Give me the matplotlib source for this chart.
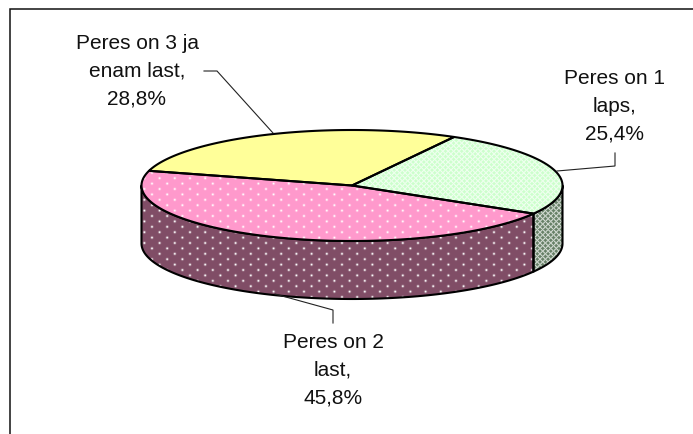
import numpy as np
import matplotlib
matplotlib.use("Agg")
import matplotlib.pyplot as plt
from matplotlib.patches import Polygon

plt.rcParams['font.family'] = ['Liberation Sans', 'DejaVu Sans']

categories = ["Peres on 1\nlaps,", "Peres on 2\nlast,", "Peres on 3 ja\nenam last,"]
values = [25.4, 45.8, 28.8]
value_labels = ["25,4%", "45,8%", "28,8%"]
top_colors = ["#ccffcc", "#ff99cc", "#ffff99"]
side_colors = ["#668066", "#804d66", "#808050"]
patterns = ["lattice", "dots", None]
label_pos = [(614.5, 106), (333, 370), (137, 71)]
leaders = [[(557, 171), (615, 166), (615, 153)],
           [(275, 294), (333, 310), (333, 323)],
           [(204, 71), (217, 71), (273, 133)]]

W, H = 693, 434
CX, CY, RX, RY, DEPTH = 352, 185.5, 210.5, 55.5, 58
START = 61.0

fig = plt.figure(figsize=(W / 100, H / 100), dpi=100)
ax = fig.add_axes([0, 0, 1, 1])
ax.set_xlim(0, W)
ax.set_ylim(H, 0)
ax.axis('off')
ax.plot([9.5, 9.5, W], [H, 8.5, 8.5], color='#111111', lw=1.1, zorder=1,
        solid_joinstyle='miter')

YY, XX = np.mgrid[0:H, 0:W] + 0.5


def texture(kind):
    """Return white-alpha overlay for a fill pattern."""
    if kind == "dots":
        px, py = 15.2, 10.8
        a = np.zeros_like(XX)
        for ox, oy in [(0, 0), (px / 2, py / 2)]:
            dx = (XX - ox + px / 2) % px - px / 2
            dy = (YY - oy + py / 2) % py - py / 2
            a = np.maximum(a, np.exp(-(dx**2 + dy**2) / (2 * 0.8**2)))
        return a
    p = 5.4
    d1 = np.abs(((XX + YY) + p / 2) % p - p / 2)
    d2 = np.abs(((XX - YY) + p / 2) % p - p / 2)
    a = np.maximum(np.exp(-d1**2 / 0.9), np.exp(-d2**2 / 0.9))
    return a * 0.7


def pts(a0, a1, dy=0):
    t = np.radians(np.linspace(a0, a1, 200))
    return np.column_stack([CX + RX * np.cos(t), CY - RY * np.sin(t) + dy])


def patterned(poly, color, kind, z, lw=1.5):
    ax.add_patch(Polygon(poly, closed=True, fc=color, ec='none', zorder=z))
    if kind:
        rgba = np.ones((H, W, 4))
        rgba[..., 3] = texture(kind)
        im = ax.imshow(rgba, extent=(0, W, H, 0), zorder=z + 0.1, aspect='auto',
                       interpolation='nearest')
        clip = Polygon(poly, closed=True, transform=ax.transData)
        im.set_clip_path(clip)
    ax.add_patch(Polygon(poly, closed=True, fc='none', ec='black', lw=lw,
                         joinstyle='round', zorder=z + 0.2))


angles = START - np.cumsum([0] + values) * 3.6

# walls: the visible front half runs between 180 and 360 degrees
for i in range(3):
    a0, a1 = angles[i], angles[i + 1]      # a1 < a0, clockwise
    lo, hi = max(a1, -180), min(a0, 0)
    if lo < hi:
        top = pts(hi, lo)
        bot = pts(lo, hi, DEPTH)
        patterned(np.vstack([top, bot]), side_colors[i], patterns[i], 2)

# tops
for i in range(3):
    arc = pts(angles[i], angles[i + 1])
    patterned(np.vstack([[CX, CY], arc]), top_colors[i], patterns[i], 3)

for i in range(3):
    xs, ys = zip(*leaders[i])
    ax.plot(xs, ys, color='#222222', lw=0.8, zorder=4, solid_joinstyle='miter')
    ax.text(*label_pos[i], categories[i] + "\n" + value_labels[i], ha='center',
            va='center', ma='center', fontsize=15.0, linespacing=1.58,
            color='#111111', zorder=5)

ax.set_xlim(0, W)
ax.set_ylim(H, 0)
fig.savefig("out.png", dpi=100)
